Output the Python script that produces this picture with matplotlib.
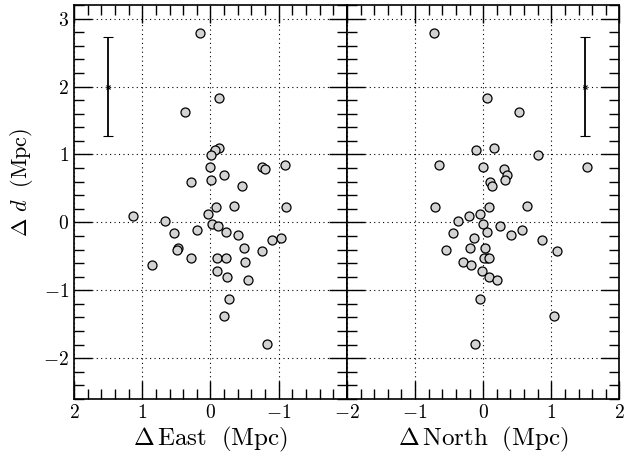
import matplotlib
matplotlib.use("Agg")
from matplotlib import pyplot as plt
from matplotlib.ticker import MultipleLocator, FuncFormatter

plt.rcParams['mathtext.fontset'] = 'cm'
plt.rcParams['font.family'] = 'serif'

# offsets of each galaxy: line of sight distance, east and north
delta_d = [2.79, 1.83, 1.63, 1.10, 1.06, 0.99, 0.82, 0.82, 0.78, 0.85,
           0.70, 0.62, 0.60, 0.53, 0.24, 0.22, 0.22, 0.13, 0.09, 0.02,
           -0.02, -0.06, -0.11, -0.14, -0.16, -0.19, -0.23, -0.26, -0.37, -0.38,
           -0.41, -0.42, -0.52, -0.53, -0.53, -0.58, -0.63, -0.71, -0.81, -0.85,
           -1.13, -1.38, -1.79]
delta_east = [0.16, -0.13, 0.37, -0.13, -0.07, -0.01, 0.01, -0.75, -0.80, -1.09,
              -0.20, -0.01, 0.29, -0.46, -0.34, -0.08, -1.10, 0.03, 1.14, 0.67,
              -0.02, -0.11, 0.20, -0.22, 0.54, -0.40, -1.04, -0.90, -0.49, 0.48,
              0.49, -0.75, 0.28, -0.10, -0.22, -0.50, 0.86, -0.10, -0.24, -0.55,
              -0.27, -0.20, -0.83]
delta_north = [-0.72, 0.05, 0.52, 0.16, -0.11, 0.81, -0.01, 1.52, 0.30, -0.65,
               0.35, 0.32, 0.10, 0.13, 0.65, 0.08, -0.71, -0.05, -0.21, -0.37,
               0.00, 0.25, 0.57, 0.05, -0.44, 0.41, -0.14, 0.87, 0.03, -0.20,
               -0.54, 1.09, 0.05, 0.01, 0.08, -0.30, -0.18, -0.02, 0.09, 0.20,
               -0.04, 1.04, -0.12]

# typical distance uncertainty
err_x = 1.5
err_y = 2.0
err_size = 0.73

fig = plt.figure(figsize=(6.39, 4.58), dpi=100)
ax1 = fig.add_axes([0.1158, 0.1288, 0.4272, 0.8602])
ax2 = fig.add_axes([0.5430, 0.1288, 0.4264, 0.8602], sharey=ax1)

math_fmt = FuncFormatter(lambda v, p: r'$%d$' % round(v))
# the shared edge only gets one -2 label (from the right panel)
east_fmt = FuncFormatter(lambda v, p: '' if round(v) == -2 else r'$%d$' % round(v))

for ax, xs in [(ax1, delta_east), (ax2, delta_north)]:
    ax.scatter(xs, delta_d, s=42, facecolor='#d3d3d3', edgecolor='black',
               linewidth=0.9, zorder=3)
    ax.errorbar([err_x], [err_y], yerr=[err_size], fmt='x', color='black',
                ms=3.5, mew=0.8, elinewidth=1.3, capsize=3.5, capthick=1.3,
                zorder=3)
    ax.grid(True, which='major', linestyle=(0, (1, 3)), color='black',
            linewidth=0.8)
    ax.xaxis.set_major_locator(MultipleLocator(1))
    ax.xaxis.set_minor_locator(MultipleLocator(0.2))
    ax.yaxis.set_major_locator(MultipleLocator(1))
    ax.yaxis.set_minor_locator(MultipleLocator(0.2))
    ax.tick_params(which='both', direction='in', top=True, right=True,
                   labelsize=14, width=1.0)
    ax.tick_params(which='major', length=13)
    ax.tick_params(which='minor', length=7.5)
    ax.yaxis.set_major_formatter(math_fmt)
    for s in ax.spines.values():
        s.set_linewidth(1.2)

ax1.xaxis.set_major_formatter(east_fmt)
ax2.xaxis.set_major_formatter(math_fmt)
ax1.set_xlim(2, -2)
ax2.set_xlim(-2, 2)
ax1.set_ylim(-2.6, 3.2)
ax2.tick_params(labelleft=False)

ax1.set_xlabel(r'$\Delta\,\mathrm{East}\ \ \mathrm{(Mpc)}$', fontsize=18, labelpad=2)
ax2.set_xlabel(r'$\Delta\,\mathrm{North}\ \ \mathrm{(Mpc)}$', fontsize=18, labelpad=2)
ax1.set_ylabel(r'$\Delta\ d\ \ \mathrm{(Mpc)}$', fontsize=16)
ax1.yaxis.set_label_coords(-0.143, 0.55)

fig.savefig('out.png', dpi=100)
